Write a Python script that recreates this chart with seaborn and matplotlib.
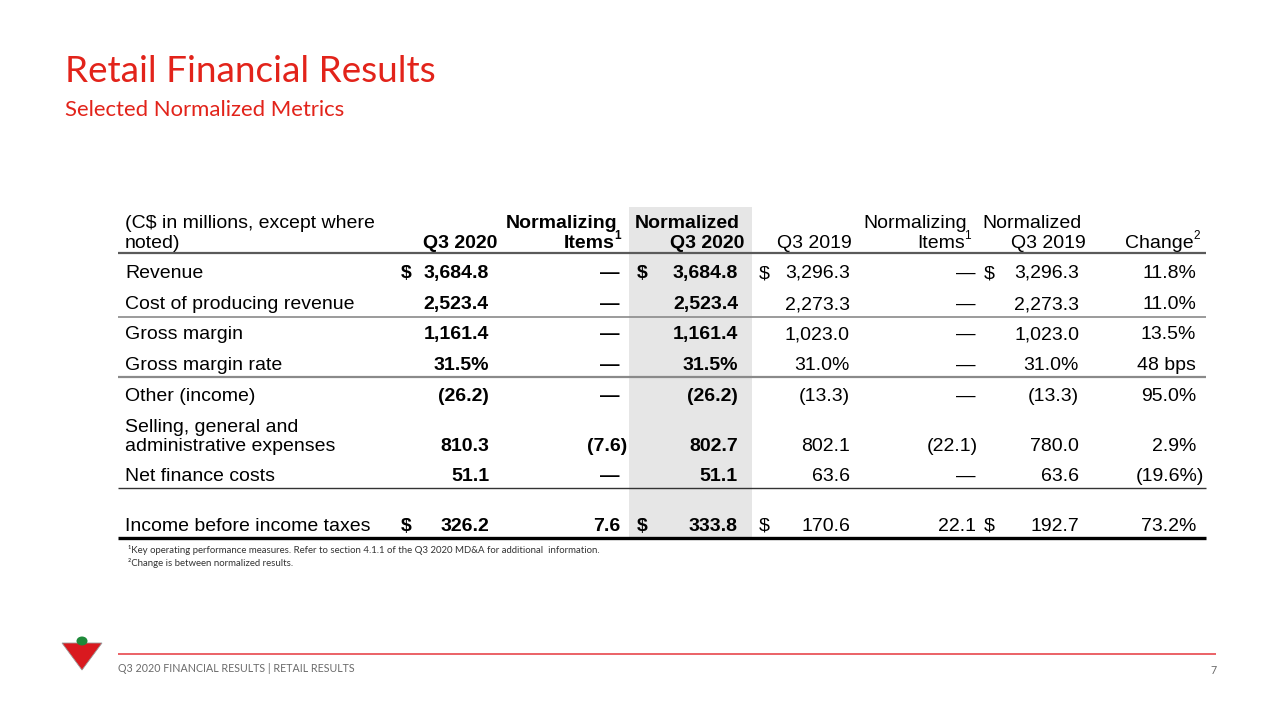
import matplotlib
matplotlib.use("Agg")
import matplotlib.pyplot as plt
from matplotlib.patches import Polygon, Rectangle, Ellipse
import seaborn as sns

# Datos de la tabla (C$ en millones)
row_labels = ["Revenue", "Cost of producing revenue", "Gross margin", "Gross margin rate",
              "Other (income)", "Selling, general and\nadministrative expenses",
              "Net finance costs", "Income before income taxes"]
q3_2020 = ["3,684.8", "2,523.4", "1,161.4", "31.5%", "(26.2)", "810.3", "51.1", "326.2"]
items_2020 = ["—", "—", "—", "—", "—", "(7.6)", "—", "7.6"]
norm_2020 = ["3,684.8", "2,523.4", "1,161.4", "31.5%", "(26.2)", "802.7", "51.1", "333.8"]
q3_2019 = ["3,296.3", "2,273.3", "1,023.0", "31.0%", "(13.3)", "802.1", "63.6", "170.6"]
items_2019 = ["—", "—", "—", "—", "—", "(22.1)", "—", "22.1"]
norm_2019 = ["3,296.3", "2,273.3", "1,023.0", "31.0%", "(13.3)", "780.0", "63.6", "192.7"]
change = ["11.8%", "11.0%", "13.5%", "48 bps", "95.0%", "2.9%", "(19.6%)", "73.2%"]

# encabezados: (linea 1, linea 2, superindice)
col_headers = [("", "Q3 2020", ""), ("Normalizing", "Items", "1"), ("Normalized", "Q3 2020", ""),
               ("", "Q3 2019", ""), ("Normalizing", "Items", "1"), ("Normalized", "Q3 2019", ""),
               ("", "Change", "2")]
stub_header = ["(C$ in millions, except where", "noted)"]
dollar_rows = [0, 7]
footnotes = ["¹Key operating performance measures. Refer to section 4.1.1 of the Q3 2020 MD&A for additional  information.",
             "²Change is between normalized results."]

columns = [q3_2020, items_2020, norm_2020, q3_2019, items_2019, norm_2019, change]

# Layout (pixeles; y = linea base del texto)
col_right = [489, 620, 738, 850, 976, 1079, 1196]
head_right = [497, 621, 744, 852, 971, 1086, 1200]
paren_hang = [0, 7, 0, 0, 2, 0, 8]
bold_cols = [True, True, True, False, False, False, False]
dollar_x = {0: 401, 2: 637, 3: 759, 5: 984}
row_base = [278, 309, 339, 370, 401, 451, 481, 531]
head_base = [228, 248]
RED = "#e2231a"
INK = "#000000"

sns.set_theme(style="white")
plt.rcParams["font.family"] = ["Liberation Sans", "DejaVu Sans"]

fig = plt.figure(figsize=(12.8, 7.2), dpi=100)
ax = fig.add_axes([0, 0, 1, 1])
ax.set_xlim(0, 1280)
ax.set_ylim(720, 0)
ax.axis("off")

# titulo
ax.text(65, 71, "Retail Financial Results", color=RED, fontsize=26.6, family="Lato",
        va="center", ha="left")
ax.text(65, 110, "Selected Normalized Metrics", color=RED, fontsize=15.9, family="Lato",
        va="center", ha="left")

# columna sombreada
ax.add_patch(Rectangle((629, 207), 123, 330, color="#e6e6e6", zorder=0, lw=0))

fs = 14
# encabezados
for k, line in enumerate(stub_header):
    ax.text(125, head_base[k], line, fontsize=fs, color=INK, va="baseline", ha="left")
for j, (h1, h2, sup) in enumerate(col_headers):
    w = "bold" if bold_cols[j] else "normal"
    if h1:
        ax.text(head_right[j] - 4, head_base[0], h1, fontsize=fs, weight=w, color=INK,
                va="baseline", ha="right")
    if sup:
        ax.text(head_right[j], head_base[1] - 9, sup, fontsize=8.5, weight=w, color=INK,
                va="baseline", ha="right")
        ax.text(head_right[j] - 6, head_base[1], h2, fontsize=fs, weight=w, color=INK,
                va="baseline", ha="right")
    else:
        ax.text(head_right[j], head_base[1], h2, fontsize=fs, weight=w, color=INK,
                va="baseline", ha="right")

# filas
for i, label in enumerate(row_labels):
    parts = label.split("\n")
    for k, p in enumerate(parts):
        ax.text(125, row_base[i] - 19 * (len(parts) - 1 - k), p, fontsize=fs, color=INK,
                va="baseline", ha="left")
    for j, col in enumerate(columns):
        val = col[i]
        x = col_right[j] + (paren_hang[j] if val.endswith(")") else 0)
        w = "bold" if bold_cols[j] else "normal"
        ax.text(x, row_base[i], val, fontsize=fs, weight=w, color=INK, va="baseline", ha="right")
        if i in dollar_rows and j in dollar_x:
            ax.text(dollar_x[j], row_base[i], "$", fontsize=fs, weight=w, color=INK,
                    va="baseline", ha="left")

# lineas de la tabla
ax.hlines(253, 118, 1206, color="#5a5a5a", lw=1.6)
ax.hlines(317, 118, 1206, color="#8a8a8a", lw=1.2)
ax.hlines(377, 118, 1206, color="#8a8a8a", lw=1.6)
ax.hlines(488, 118, 1206, color="#333333", lw=1.0)
ax.hlines(538, 118, 1206, color="#000000", lw=2.4)

# notas
ax.text(128, 550, footnotes[0], fontsize=6.9, family="Lato", color="#333333", va="center", ha="left")
ax.text(128, 563, footnotes[1], fontsize=6.9, family="Lato", color="#333333", va="center", ha="left")

# pie de pagina
ax.hlines(654, 118, 1216, color="#e8474d", lw=1.2)
ax.text(118, 669, "Q3 2020 FINANCIAL RESULTS | RETAIL RESULTS", fontsize=7.7, family="Lato",
        color="#6a6a6a", va="center", ha="left")
ax.text(1217, 670, "7", fontsize=7.7, family="Lato", color="#6a6a6a", va="center", ha="right")

# logo
ax.add_patch(Polygon([(62, 643), (102, 643), (82, 670)], closed=True, fc="#d9191f",
                     ec="#9a9a9a", lw=0.6))
ax.add_patch(Ellipse((82, 641), 11, 9, fc="#1e8a3a", ec="none"))

fig.savefig("out.png", dpi=100)
